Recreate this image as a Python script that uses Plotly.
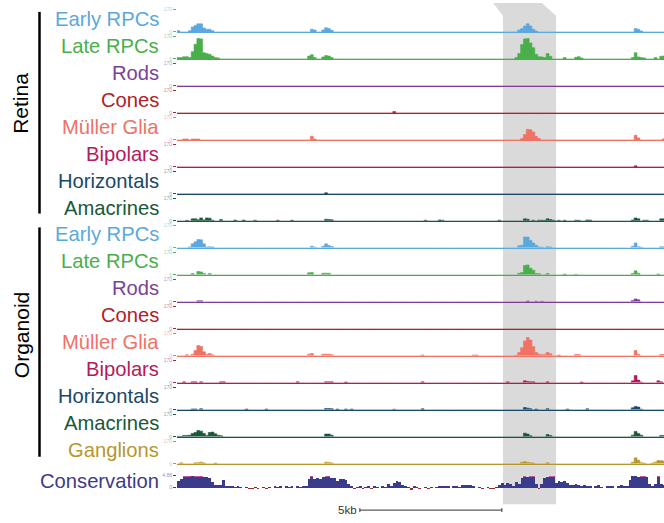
import plotly.graph_objects as go

# ---------------- data (genomic position in kb from window start, signal value) ----------------
BIN_KB = 0.1
WINDOW_KB = 17.15
N_BINS = 172
SIGNAL_MAX = 170
CONS_MAX = 4.88
CONS_MIN = -1.5

retina_early_rpcs = [(0.0,10),(0.4,10),(0.5,37),(0.6,49),(0.7,61),(0.8,61),(0.9,30),(1.0,20),(1.1,20),(1.2,10),
                     (4.7,20),(4.8,15),(5.1,15),(5.2,32),(5.3,25),(5.4,12),
                     (12.0,15),(12.1,25),(12.2,44),(12.3,61),(12.4,44),(12.5,20),(12.6,7),
                     (16.1,25),(16.2,20),(16.3,8)]
retina_late_rpcs = [(0.0,10),(0.1,10),(0.2,17),(0.3,17),(0.4,10),(0.5,54),(0.6,110),(0.7,153),(0.8,150),(0.9,47),
                    (1.0,40),(1.1,35),(1.2,22),(1.3,10),(1.4,8),
                    (4.6,22),(4.7,32),(4.8,10),(5.1,15),(5.2,25),(5.3,22),(5.4,10),
                    (11.9,10),(12.0,40),(12.1,108),(12.2,150),(12.3,153),(12.4,120),(12.5,84),(12.6,35),(12.7,17),
                    (12.8,15),(12.9,10),(13.0,40),(13.1,20),(13.6,10),(14.0,12),(14.1,17),(14.2,7),
                    (16.0,10),(16.1,47),(16.2,15),(16.3,10),(16.4,8),(16.8,10),(17.0,20),(17.1,22)]
retina_rods = []
retina_cones = [(7.6,10)]
retina_muller = [(0.2,7),(0.3,7),(0.5,7),(0.6,7),(0.7,7),(4.7,28),(4.8,7),
                 (12.1,10),(12.2,40),(12.3,79),(12.4,76),(12.5,59),(12.6,27),(12.7,10),
                 (16.1,35),(16.2,15),(17.1,8)]
retina_bipolars = [(16.1,8)]
retina_horizontals = [(5.2,8)]
retina_amacrines = [(0.3,4),(0.5,15),(0.6,15),(0.7,8),(0.8,22),(0.9,7),(1.0,22),(1.1,20),(1.2,5),(1.5,10),
                    (2.0,6),(2.3,6),(2.7,5),(3.5,5),(4.0,5),(5.2,12),(5.3,10),(5.4,8),
                    (8.7,5),(9.2,7),(9.3,5),(11.3,5),(12.2,15),(12.3,12),(12.5,5),(12.7,5),(12.8,5),(12.9,4),
                    (13.0,15),(13.1,10),(13.2,5),(13.4,5),(13.6,5),(14.0,5),(14.1,4),(14.4,7),(14.5,6),
                    (16.0,7),(16.1,22),(16.2,15),(16.4,5),(16.5,5),(17.0,15),(17.1,15)]

organoid_early_rpcs = [(0.4,7),(0.5,30),(0.6,45),(0.7,62),(0.8,60),(0.9,30),(1.0,7),(1.1,8),(1.2,7),
                       (4.7,12),(4.8,5),(5.1,12),(5.2,30),(5.3,17),(5.4,10),
                       (12.0,15),(12.1,20),(12.2,81),(12.3,81),(12.4,57),(12.5,37),(12.6,20),(12.7,7),(12.8,5),
                       (13.0,8),(13.1,6),(16.0,12),(16.1,37),(16.2,8),(16.3,5),(17.0,8),(17.1,8)]
organoid_late_rpcs = [(0.5,10),(0.7,25),(0.8,22),(0.9,10),(1.1,10),(4.6,15),(4.7,17),(5.1,12),(5.2,12),(5.3,12),
                      (12.0,12),(12.1,17),(12.2,70),(12.3,74),(12.4,50),(12.5,35),(12.6,10),(12.7,8),(13.0,10),
                      (13.6,6),(14.0,4),(16.0,10),(16.1,30),(16.2,12),(16.9,6)]
organoid_rods = [(0.7,8),(0.8,8),(12.3,6),(12.6,4),(12.8,4),(16.0,10),(16.1,22),(16.2,15)]
organoid_cones = []
organoid_muller = [(0.3,8),(0.5,12),(0.6,40),(0.7,77),(0.8,70),(0.9,30),(1.0,12),(1.1,17),(1.2,7),
                   (4.6,12),(4.7,17),(5.1,12),(5.2,12),(5.3,12),(5.4,8),(8.6,6),(10.4,6),(10.5,6),
                   (11.9,5),(12.0,25),(12.1,60),(12.2,111),(12.3,136),(12.4,118),(12.5,69),(12.6,25),(12.7,12),
                   (12.8,7),(12.9,10),(13.0,25),(13.1,15),(13.4,6),(14.0,10),(14.1,10),
                   (16.1,40),(16.2,12),(17.0,10),(17.1,10)]
organoid_bipolars = [(0.2,7),(0.5,7),(0.6,7),(0.8,7),(1.5,7),(1.6,7),(4.2,7),(5.2,7),(5.3,7),(5.4,7),(5.9,6),
                     (8.6,7),(11.6,7),(12.2,15),(12.3,10),(12.4,7),(12.5,7),(13.0,7),(14.2,6),
                     (16.0,15),(16.1,54),(16.2,20),(16.3,5),(16.9,15),(17.0,7)]
organoid_horizontals = [(0.5,6),(0.6,6),(0.8,8),(2.4,5),(3.1,5),(5.2,10),(5.3,10),(5.4,8),(5.6,5),(5.9,5),
                        (6.1,5),(7.6,4),(8.6,7),(12.2,17),(12.3,12),(12.4,7),(12.6,5),(13.0,8),(13.7,5),
                        (14.4,7),(16.0,15),(16.1,25),(16.2,20),(16.3,4)]
organoid_amacrines = [(0.0,3),(0.1,3),(0.2,10),(0.3,10),(0.4,12),(0.5,25),(0.6,32),(0.7,47),(0.8,42),(0.9,25),
                      (1.0,10),(1.1,32),(1.2,35),(1.3,22),(1.4,12),(1.5,8),(5.2,20),(5.3,20),(5.4,12),
                      (12.2,27),(12.3,20),(12.4,8),(13.0,17),(13.1,10),
                      (16.0,12),(16.1,40),(16.2,25),(16.3,12),(17.0,10),(17.1,10)]
organoid_ganglions = [(0.1,7),(0.6,7),(0.7,7),(0.8,12),(0.9,6),(1.3,5),(5.2,12),(5.3,10),(5.4,6),
                      (12.1,12),(12.2,15),(12.3,10),(12.4,7),(12.5,5),(13.0,8),
                      (16.0,12),(16.1,44),(16.2,27),(16.3,8),(16.4,5),(16.7,5),(16.8,12),(16.9,25),(17.0,22),(17.1,20)]

conservation = [2.5, 3.5,
                4.88, 4.88, 4.88, 4.5, 4.88, 4.88, 4.88, 4.4, 4.3,
                3.8, 2.2,
                1.0, 0.9, 1.1,
                2.9,
                0.7, 0.5, 0.8, 0.4, 0.6, 0.3,
                -0.3, 0.2, -0.4, -0.5, 0.3, -0.4, -0.3, 0.4, -0.5, 0.3, -0.2,
                0.5, 0.4, 0.6, -0.3, 0.5, 0.4, 0.6, -0.2, 0.5, 0.4, 0.7, 0.5,
                3.5, 4.88,
                3.6, 4.0, 3.5, 4.2, 4.88, 4.88, 4.0, 3.8, 2.8, 3.6, 3.4, 3.0, 1.5,
                0.5, -0.4, 0.4, 0.6, -0.5, 0.3, 0.5, -0.4, 0.5, 0.3, -0.3, 0.6, 0.4,
                1.5, 0.8,
                2.0, 2.6, 2.3, 1.0,
                0.6, 0.4, -1.0, 0.5, 0.3,
                -0.5, -0.3, 0.3, -0.4, 0.2, -0.3, 0.3,
                0.5, 0.6, 0.8, 0.5, -0.3, 0.7, 0.6, 0.4,
                1.0, 1.1, 0.9, 1.0, 0.8,
                -0.3, 0.3, -0.4, -0.3, 0.3, -0.4, -0.5, 0.4,
                1.0, 1.8, 1.2, 2.0, 1.5, 0.7, 2.2,
                1.5,
                4.0, 4.88, 4.4, 4.88, 4.88,
                1.5, -0.7, 1.5,
                3.8, 4.3, 4.88, 4.88,
                2.0,
                2.8, 2.4, 2.6, 2.0,
                1.2, 1.0, 1.4, 1.0, 0.8, 1.1,
                0.5, 0.8, -0.3, 0.6, 0.9, 0.4, -0.3, 0.7, 0.5, 0.8, -0.2, 0.6, 0.9, 0.5, 0.7,
                3.0,
                4.5, 4.6, 4.4, 4.88, 4.88, 4.3,
                1.3, 0.8, 1.5,
                4.88, 1.5,
                1.2]

track_names = ["Early RPCs", "Late RPCs", "Rods", "Cones", "Müller Glia", "Bipolars",
               "Horizontals", "Amacrines", "Ganglions"]
track_colors = ["#5BA8DE", "#49AF4A", "#7B3F9A", "#B22028", "#F07265", "#B5195B",
                "#1A4868", "#19583A", "#B8962E"]
retina_tracks = [retina_early_rpcs, retina_late_rpcs, retina_rods, retina_cones, retina_muller,
                 retina_bipolars, retina_horizontals, retina_amacrines]
organoid_tracks = [organoid_early_rpcs, organoid_late_rpcs, organoid_rods, organoid_cones, organoid_muller,
                   organoid_bipolars, organoid_horizontals, organoid_amacrines, organoid_ganglions]
group_names = ["Retina", "Organoid"]

highlight_kb = [11.48, 13.35]
zoom_link_kb = [11.13, 12.85]
scale_bar_start_kb = 6.44
scale_bar_kb = 5
scale_bar_label = "5kb"
cons_label = "Conservation"
cons_color = "#3B3B8C"
cons_neg_color = "#A3282C"
cons_clip_color = "#C4559F"

# ---------------- layout helpers ----------------
W, H = 664, 523
ML = 177
PW = W - ML
FONT = "Liberation Sans, Arial, sans-serif"


def px_x(px):
    return (px - ML) / PW


def px_y(py):
    return 1 - py / H


def faded(hexcol, a=0.6):
    h = hexcol.lstrip('#')
    r, g, b = int(h[0:2], 16), int(h[2:4], 16), int(h[4:6], 16)
    return f"rgba({r},{g},{b},{a})"


fig = go.Figure()
layout = {}
annotations = []
shapes = []

tracks = [(n, c, d) for n, c, d in zip(track_names, track_colors, retina_tracks)]
tracks += [(n, c, d) for n, c, d in zip(track_names, track_colors, organoid_tracks)]

BASE0, STEP, TH = 29.3, 27.3, 23.0
x_edges = [i * BIN_KB for i in range(N_BINS + 1)]

for k, (name, color, data) in enumerate(tracks):
    sfx = "" if k == 0 else str(k + 1)
    xa, ya = "x" + sfx, "y" + sfx
    vals = [0.0] * N_BINS
    for pos, v in data:
        vals[int(round(pos / BIN_KB))] = v
    ys = vals + [vals[-1]]
    fig.add_trace(go.Scatter(x=x_edges, y=ys, xaxis=xa, yaxis=ya, mode="lines",
                             line=dict(color=color, width=0.6, shape="hv"),
                             fill="tozeroy", fillcolor=color, hoverinfo="skip"))
    base = BASE0 + STEP * k
    layout["xaxis" + sfx] = dict(domain=[0, 1], range=[0, WINDOW_KB], anchor=ya, showline=True,
                                 linecolor=color, linewidth=1.5, showgrid=False, zeroline=False,
                                 showticklabels=False, ticks="", fixedrange=True)
    layout["yaxis" + sfx] = dict(domain=[px_y(base), px_y(base - TH)], range=[0, SIGNAL_MAX], anchor=xa,
                                 showgrid=False, zeroline=False, showline=False, ticks="outside",
                                 ticklen=3, tickwidth=1, tickcolor=color,
                                 tickvals=[0, SIGNAL_MAX], ticktext=["0", str(SIGNAL_MAX)],
                                 tickfont=dict(size=5, color=faded(color), family=FONT),
                                 fixedrange=True)
    annotations.append(dict(text=name, xref="paper", yref="paper", x=px_x(160.5), y=px_y(base - TH / 2),
                            xanchor="right", yanchor="middle", yshift=2, showarrow=False,
                            font=dict(size=20.2, color=color, family=FONT)))

# conservation track
k = len(tracks)
sfx = str(k + 1)
xa, ya = "x" + sfx, "y" + sfx
pos_vals = [max(v, 0) for v in conservation]
neg_vals = [min(v, 0) for v in conservation]
clip_vals = [0.4 if v >= CONS_MAX else 0 for v in conservation]
fig.add_trace(go.Bar(x0=BIN_KB / 2, dx=BIN_KB, y=pos_vals, width=BIN_KB, xaxis=xa, yaxis=ya,
                     marker=dict(color=cons_color, line=dict(width=0)), hoverinfo="skip"))
fig.add_trace(go.Bar(x0=BIN_KB / 2, dx=BIN_KB, y=neg_vals, width=BIN_KB, xaxis=xa, yaxis=ya,
                     marker=dict(color=cons_neg_color, line=dict(width=0)), hoverinfo="skip"))
fig.add_trace(go.Bar(x0=BIN_KB / 2, dx=BIN_KB, y=clip_vals, base=CONS_MAX - 0.4, width=BIN_KB,
                     xaxis=xa, yaxis=ya, marker=dict(color=cons_clip_color, line=dict(width=0)),
                     hoverinfo="skip"))
cons_zero_px, cons_top_px = 490.3, 478.0
ppu = (cons_zero_px - cons_top_px) / CONS_MAX
layout["xaxis" + sfx] = dict(domain=[0, 1], range=[0, WINDOW_KB], anchor=ya, showline=False,
                             showgrid=False, zeroline=False, showticklabels=False, ticks="", fixedrange=True)
layout["yaxis" + sfx] = dict(domain=[px_y(cons_zero_px - CONS_MIN * ppu), px_y(cons_top_px)],
                             range=[CONS_MIN, CONS_MAX], anchor=xa, showgrid=False, zeroline=False,
                             showline=False, ticks="outside", ticklen=3, tickwidth=1, tickcolor=cons_color,
                             tickvals=[0, CONS_MAX], ticktext=["0", f"{CONS_MAX:.2f}"],
                             tickfont=dict(size=5, color=faded(cons_color), family=FONT), fixedrange=True)
annotations.append(dict(text=cons_label, xref="paper", yref="paper", x=px_x(160.5), y=px_y(484),
                        xanchor="right", yanchor="middle", showarrow=False,
                        font=dict(size=20.2, color=cons_color, family=FONT)))

# highlight region with link to zoom
y_top, y_sh, y_bot = 1.0, px_y(13), px_y(507)
path = (f"M {zoom_link_kb[0]} {y_top} L {zoom_link_kb[1]} {y_top} L {highlight_kb[1]} {y_sh} "
        f"L {highlight_kb[1]} {y_bot} L {highlight_kb[0]} {y_bot} L {highlight_kb[0]} {y_sh} Z")
shapes.append(dict(type="path", path=path, xref="x", yref="paper", fillcolor="#DADADA",
                   line=dict(width=0), layer="below"))

# scale bar
sb_y = px_y(513)
sb_end = scale_bar_start_kb + scale_bar_kb
shapes.append(dict(type="line", xref="x", yref="paper", x0=scale_bar_start_kb, x1=sb_end, y0=sb_y, y1=sb_y,
                   line=dict(color="#333333", width=1)))
for xe in (scale_bar_start_kb, sb_end):
    shapes.append(dict(type="line", xref="x", yref="paper", x0=xe, x1=xe, y0=sb_y - 2 / H, y1=sb_y + 2 / H,
                       line=dict(color="#333333", width=1)))
annotations.append(dict(text=scale_bar_label, xref="x", yref="paper", x=scale_bar_start_kb, y=sb_y,
                        xanchor="right", yanchor="middle", xshift=-1, showarrow=False,
                        font=dict(size=11.5, color="#333333", family=FONT)))

# group labels and brackets
groups = [(group_names[0], 102, 9, 213), (group_names[1], 336, 227, 459)]
for gname, cy, y0, y1 in groups:
    annotations.append(dict(text=gname, xref="paper", yref="paper", x=px_x(21), y=px_y(cy),
                            xanchor="center", yanchor="middle", textangle=-90, showarrow=False,
                            font=dict(size=21, color="black", family=FONT)))
    shapes.append(dict(type="line", xref="paper", yref="paper", x0=px_x(39.5), x1=px_x(39.5),
                       y0=px_y(y0), y1=px_y(y1), line=dict(color="black", width=2.5)))

fig.update_layout(**layout)
fig.update_layout(width=W, height=H, margin=dict(l=ML, r=0, t=0, b=0, pad=0),
                  paper_bgcolor="white", plot_bgcolor="rgba(0,0,0,0)", showlegend=False,
                  barmode="overlay", bargap=0, annotations=annotations, shapes=shapes,
                  font=dict(family=FONT))
fig.write_html("out.html", config={"displayModeBar": False, "staticPlot": True},
               post_script="document.body.style.margin='0';document.body.style.overflow='hidden';")
